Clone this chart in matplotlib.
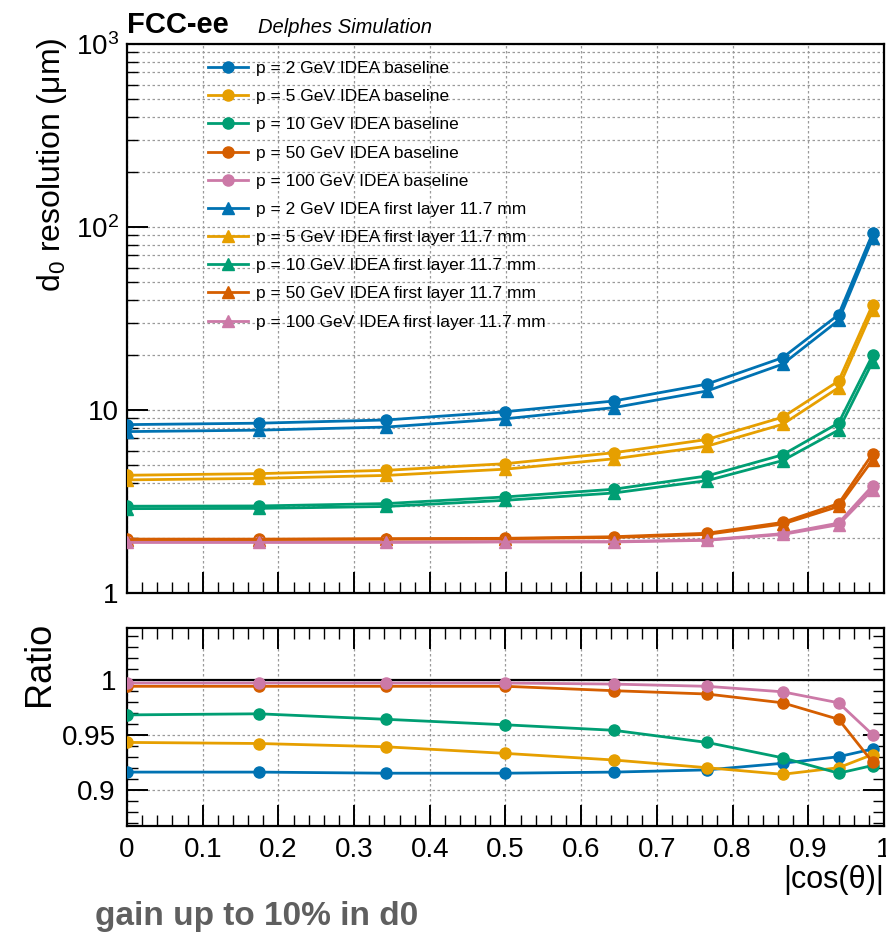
import matplotlib
matplotlib.use('Agg')
import matplotlib.pyplot as plt
from matplotlib.ticker import FixedLocator, FixedFormatter, MultipleLocator, LogLocator, NullFormatter

plt.rcParams['font.family'] = ['Liberation Sans', 'DejaVu Sans']
plt.rcParams['mathtext.fontset'] = 'custom'
plt.rcParams['mathtext.rm'] = 'Liberation Sans'
plt.rcParams['mathtext.it'] = 'Liberation Sans:italic'

# |cos(theta)| points (theta = 90, 80, ..., 10 deg)
cos_theta = [0.0, 0.174, 0.342, 0.5, 0.643, 0.766, 0.866, 0.940, 0.985]

momenta = ['2', '5', '10', '50', '100']
colors = ['#0072B2', '#E69F00', '#009E73', '#D55E00', '#CC79A7']

# d0 resolution (um), IDEA baseline
base_2 = [8.32, 8.47, 8.82, 9.79, 11.2, 13.85, 19.3, 33.2, 92.7]
base_5 = [4.40, 4.49, 4.68, 5.09, 5.84, 6.90, 9.13, 14.4, 37.7]
base_10 = [2.98, 2.99, 3.08, 3.35, 3.69, 4.36, 5.69, 8.49, 19.9]
base_50 = [1.97, 1.97, 1.98, 1.99, 2.03, 2.12, 2.43, 3.08, 5.77]
base_100 = [1.90, 1.90, 1.90, 1.91, 1.91, 1.95, 2.11, 2.41, 3.86]

# d0 resolution (um), IDEA first layer 11.7 mm
first_2 = [7.62, 7.76, 8.07, 8.96, 10.3, 12.7, 17.8, 30.9, 86.9]
first_5 = [4.15, 4.23, 4.39, 4.75, 5.41, 6.34, 8.35, 13.25, 35.1]
first_10 = [2.89, 2.90, 2.97, 3.21, 3.52, 4.11, 5.29, 7.77, 18.35]
first_50 = [1.96, 1.96, 1.97, 1.98, 2.01, 2.09, 2.38, 2.97, 5.34]
first_100 = [1.89, 1.89, 1.89, 1.90, 1.90, 1.94, 2.09, 2.36, 3.67]

# ratio first layer / baseline
ratio_2 = [0.916, 0.916, 0.915, 0.915, 0.916, 0.918, 0.924, 0.930, 0.937]
ratio_5 = [0.943, 0.942, 0.939, 0.933, 0.927, 0.920, 0.914, 0.920, 0.932]
ratio_10 = [0.968, 0.969, 0.964, 0.959, 0.954, 0.943, 0.929, 0.915, 0.922]
ratio_50 = [0.994, 0.994, 0.994, 0.994, 0.990, 0.987, 0.979, 0.964, 0.925]
ratio_100 = [0.997, 0.997, 0.997, 0.997, 0.996, 0.994, 0.989, 0.979, 0.950]

baseline = [base_2, base_5, base_10, base_50, base_100]
first_layer = [first_2, first_5, first_10, first_50, first_100]
ratios = [ratio_2, ratio_5, ratio_10, ratio_50, ratio_100]

W, H = 887, 947
fig = plt.figure(figsize=(W / 100, H / 100), dpi=100)
L, R = 127, 884
ax = fig.add_axes([L / W, 1 - 593 / H, (R - L) / W, (593 - 44) / H])
axr = fig.add_axes([L / W, 1 - 826 / H, (R - L) / W, (826 - 628) / H])

grid_kw = dict(color='#9a9a9a', linestyle=(0, (2, 2)), linewidth=0.9)
lw = 2.0
ms = 8

for c, p, y in zip(colors, momenta, baseline):
    ax.plot(cos_theta, y, '-o', color=c, lw=lw, ms=ms, label=f'p = {p} GeV IDEA baseline', zorder=3)
for c, p, y in zip(colors, momenta, first_layer):
    ax.plot(cos_theta, y, '-^', color=c, lw=lw, ms=ms, label=f'p = {p} GeV IDEA first layer 11.7 mm', zorder=3)

ax.set_yscale('log')
ax.set_xlim(0, 1)
ax.set_ylim(1, 1000)
ax.yaxis.set_major_locator(FixedLocator([1, 10, 100, 1000]))
ax.yaxis.set_major_formatter(FixedFormatter(['1', '10', '$10^2$', '$10^3$']))
ax.yaxis.set_minor_locator(LogLocator(base=10, subs=range(2, 10)))
ax.yaxis.set_minor_formatter(NullFormatter())
ax.xaxis.set_major_locator(MultipleLocator(0.1))
ax.xaxis.set_minor_locator(MultipleLocator(0.02))
ax.tick_params(axis='x', labelbottom=False)
ax.grid(True, which='both', axis='y', **grid_kw)
ax.grid(True, which='major', axis='x', **grid_kw)
ax.tick_params(which='major', direction='in', length=15, width=1.4, labelsize=20, pad=6)
ax.tick_params(which='minor', direction='in', length=8, width=1.0)
for s in ax.spines.values():
    s.set_linewidth(1.6)

leg = ax.legend(loc='upper left', bbox_to_anchor=(0.095, 0.985), frameon=False,
                fontsize=12.5, handlelength=2.3, labelspacing=0.75, borderpad=0,
                handletextpad=0.5)

for c, y in zip(colors, ratios):
    axr.plot(cos_theta, y, '-o', color=c, lw=lw, ms=ms, zorder=3)
axr.axhline(1.0, color='black', lw=1.6, zorder=2)
axr.set_xlim(0, 1)
axr.set_ylim(0.867, 1.047)
axr.yaxis.set_major_locator(FixedLocator([0.9, 0.95, 1.0]))
axr.yaxis.set_major_formatter(FixedFormatter(['0.9', '0.95', '1']))
axr.yaxis.set_minor_locator(MultipleLocator(0.01))
axr.xaxis.set_major_locator(FixedLocator([i / 10 for i in range(11)]))
axr.xaxis.set_major_formatter(FixedFormatter(['0', '0.1', '0.2', '0.3', '0.4', '0.5', '0.6', '0.7', '0.8', '0.9', '1']))
axr.xaxis.set_minor_locator(MultipleLocator(0.02))
axr.grid(True, which='major', **grid_kw)
axr.tick_params(which='major', direction='in', length=15, width=1.4, labelsize=20,
                top=True, right=True, pad=8)
axr.tick_params(which='minor', direction='in', length=8, width=1.0, top=True, right=True)
for s in axr.spines.values():
    s.set_linewidth(1.6)

fig.text(L / W, 1 - 33 / H, 'FCC-ee', fontsize=21, fontweight='bold', ha='left', va='baseline')
fig.text(258 / W, 1 - 33 / H, 'Delphes Simulation', fontsize=14.5, fontstyle='italic', ha='left', va='baseline')
fig.text(52 / W, 1 - 38 / H, 'd$_0$ resolution (μm)', fontsize=23, rotation=90, ha='center', va='top')
fig.text(40 / W, 1 - 622 / H, 'Ratio', fontsize=26, rotation=90, ha='center', va='top')
fig.text(R / W, 1 - 880 / H, '|cos(θ)|', fontsize=22, ha='right', va='center')
fig.text(95 / W, 1 - 916 / H, 'gain up to 10% in d0', fontsize=24, fontweight='bold',
         color='#5f5f5f', ha='left', va='center')

fig.savefig('out.png', dpi=100)
